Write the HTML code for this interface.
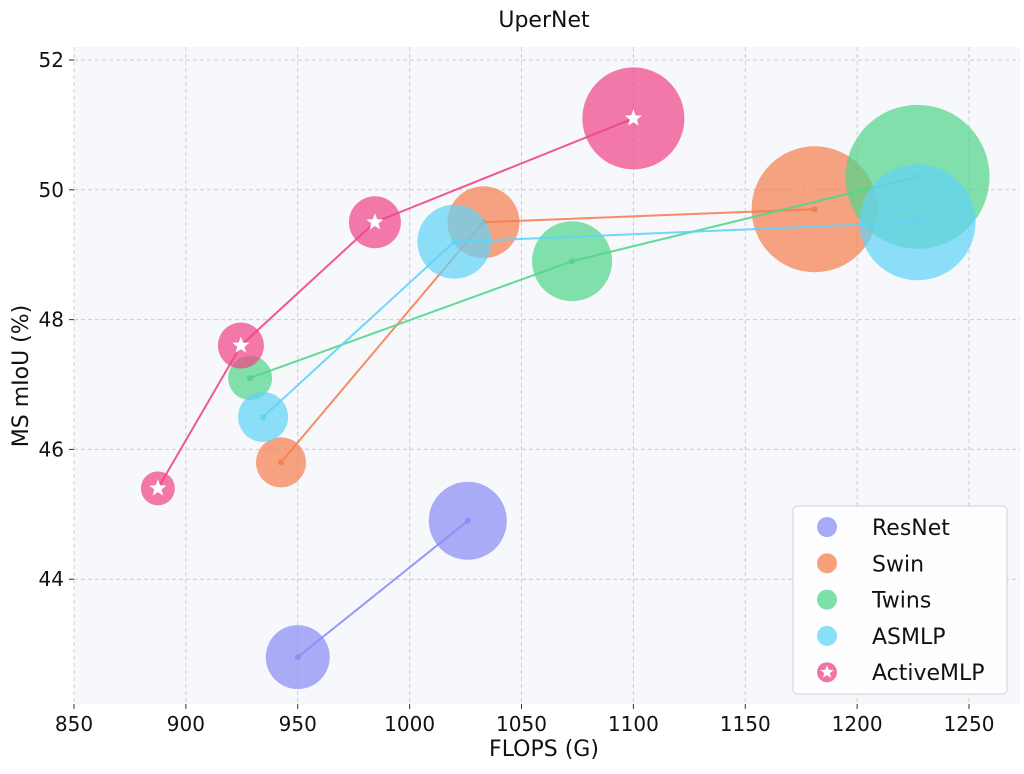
<!DOCTYPE html>
<html><head><meta charset="utf-8"><style>
body{margin:0;background:#fff;}
svg text{font-family:"DejaVu Sans","Liberation Sans",sans-serif;fill:#111;}
</style></head><body>
<svg id="chart" width="1024" height="769" viewBox="0 0 1024 769" xmlns="http://www.w3.org/2000/svg">
<text x="544" y="27" font-size="22" text-anchor="middle">UperNet</text>
<rect x="74" y="47" width="946" height="657" fill="#f7f8fc"/>
<g id="grid"></g><g id="ticks"></g><g id="series"></g>
<text x="544" y="756" font-size="22" text-anchor="middle">FLOPS (G)</text>
<text transform="translate(28,376) rotate(-90)" font-size="22" text-anchor="middle">MS mIoU (%)</text>
<g>
<rect x="793" y="506" width="214" height="188" rx="4" fill="#fff" fill-opacity="0.85" stroke="#d0d0d0"/>
<g id="legend-items"></g>
</g>
</svg>
<script>
const names=["ResNet","Swin","Twins","ASMLP","ActiveMLP"];
const colors=["#8a8ef5","#f57f50","#52d68a","#62d3f5","#ee4688"];
const resnetX=[950,1026], resnetY=[42.8,44.9], resnetR=[32,39];
const swinX=[942.5,1033,1181], swinY=[45.8,49.5,49.7], swinR=[25,36,63];
const twinsX=[928.7,1072.6,1227], twinsY=[47.1,48.9,50.2], twinsR=[22,40,72];
const asmlpX=[934.5,1020,1227], asmlpY=[46.5,49.2,49.5], asmlpR=[25,37,58];
const activeX=[887.5,924.6,984.5,1100], activeY=[45.4,47.6,49.5,51.1], activeR=[17,23,26,51];
const xTicks=[850,900,950,1000,1050,1100,1150,1200,1250];
const yTicks=[44,46,48,50,52];
const NS="http://www.w3.org/2000/svg";
const sx=v=>74+(v-850)*2.2375;
const sy=v=>60+(52-v)*64.9;
function mk(t,a,p){const e=document.createElementNS(NS,t);for(const k in a)e.setAttribute(k,a[k]);p.appendChild(e);return e;}
const grid=document.getElementById('grid'),ticks=document.getElementById('ticks');
xTicks.forEach(v=>{
 const l=mk('line',{x1:sx(v),x2:sx(v),y1:47,y2:704,stroke:'#cccccc','stroke-dasharray':'4,3'},grid);
 
 
 mk('line',{x1:sx(v),x2:sx(v),y1:704,y2:709,stroke:'#333'},ticks);
 const t=mk('text',{x:sx(v),y:731,'font-size':20,'text-anchor':'middle'},ticks);t.textContent=v;
 
 
});
yTicks.forEach(v=>{
 const l=mk('line',{x1:74,x2:1020,y1:sy(v),y2:sy(v),stroke:'#cccccc','stroke-dasharray':'4,3'},grid);
 
 
 mk('line',{x1:69,x2:74,y1:sy(v),y2:sy(v),stroke:'#333'},ticks);
 const t=mk('text',{x:64,y:sy(v)+7,'font-size':20,'text-anchor':'end'},ticks);t.textContent=v;
 
 
});
const data=[[resnetX,resnetY,resnetR],[swinX,swinY,swinR],[twinsX,twinsY,twinsR],[asmlpX,asmlpY,asmlpR],[activeX,activeY,activeR]];
const S=document.getElementById('series');
function star(cx,cy,r){let p=[];for(let i=0;i<10;i++){const a=-Math.PI/2+i*Math.PI/5,rr=i%2?r*0.42:r;p.push((cx+rr*Math.cos(a)).toFixed(1)+','+(cy+rr*Math.sin(a)).toFixed(1));}return p.join(' ');}
data.forEach((d,si)=>{
 const g=mk('g',{},S);
 
 
 const [X,Y,R]=d;
 X.forEach((x,i)=>{const c=mk('circle',{cx:sx(x),cy:sy(Y[i]),r:R[i],fill:colors[si],'fill-opacity':0.72},g);
  
  });
 mk('polyline',{points:X.map((x,i)=>sx(x)+','+sy(Y[i])).join(' '),fill:'none',stroke:colors[si],'stroke-width':2,'stroke-opacity':0.9},g);
 X.forEach((x,i)=>{
  if(si===4) mk('polygon',{points:star(sx(x),sy(Y[i]),9),fill:'#fff'},g);
  else mk('circle',{cx:sx(x),cy:sy(Y[i]),r:3,fill:colors[si]},g);
 });
});
const L=document.getElementById('legend-items');
names.forEach((n,i)=>{
 const y=527+i*36.3;
 const g=mk('g',{},L);
 
 
 mk('circle',{cx:827,cy:y,r:10,fill:colors[i],'fill-opacity':0.75},g);
 if(i===4) mk('polygon',{points:star(827,y,7),fill:'#fff'},g);
 const t=mk('text',{x:872,y:y+8,'font-size':22},g);t.textContent=n;
});
</script>
</body></html>
